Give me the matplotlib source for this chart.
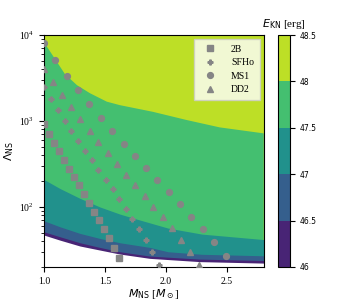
import matplotlib
matplotlib.use("Agg")
import matplotlib.pyplot as plt
import numpy as np
from matplotlib.cm import ScalarMappable
from matplotlib.colors import BoundaryNorm, ListedColormap

plt.rcParams["font.family"] = "serif"
plt.rcParams["font.serif"] = ["Liberation Serif", "DejaVu Serif"]
plt.rcParams["mathtext.fontset"] = "dejavusans"

# E_KN contour levels [log10 erg]
LEVELS = [46.0, 46.5, 47.0, 47.5, 48.0, 48.5]

# level boundaries: (M_NS, Lambda_NS)
B48_M = [1.0, 1.172, 1.27, 1.376, 1.515, 1.622, 1.892, 2.17, 2.44, 2.8]
B48_L = [8300, 3520, 2620, 2110, 1680, 1530, 1280, 1026, 843, 718]
B475_M = [1.0, 1.131, 1.295, 1.458, 1.622, 1.745, 2.015, 2.293, 2.8]
B475_L = [209, 164, 126, 100, 82.6, 73.2, 56.8, 48.3, 41.7]
B47_M = [1.0, 1.131, 1.295, 1.458, 1.622, 1.867, 2.015, 2.293, 2.8]
B47_L = [69.0, 58.8, 49.2, 43.0, 38.3, 33.8, 30.1, 28.1, 27.0]
B465_M = [1.0, 1.131, 1.295, 1.458, 1.622, 1.867, 2.276, 2.8]
B465_L = [51.4, 45.0, 38.3, 33.8, 30.1, 26.8, 24.7, 23.8]
B46_M = [1.0, 1.131, 1.295, 1.458, 1.622, 1.867, 2.276, 2.8]
B46_L = [47.1, 41.1, 35.1, 31.5, 28.3, 25.2, 23.1, 22.2]

# EOS sequences
M_2B = [1.003, 1.041, 1.085, 1.125, 1.166, 1.207, 1.248, 1.289, 1.330, 1.371,
        1.412, 1.453, 1.494, 1.535, 1.575, 1.616]
L_2B = [920, 711, 558, 443, 348, 278, 225, 178, 141, 112,
        87.9, 69.7, 54.8, 43.1, 32.9, 25.2]
M_SFHO = [1.003, 1.057, 1.112, 1.169, 1.224, 1.278, 1.335, 1.393, 1.447, 1.505,
          1.562, 1.616, 1.671, 1.725, 1.780, 1.835, 1.889, 1.946]
L_SFHO = [2510, 1800, 1340, 1010, 771, 584, 451, 348, 269, 207,
          160, 124, 94.5, 72.2, 54.8, 41.1, 29.8, 21.0]
M_MS1 = [1.003, 1.095, 1.188, 1.281, 1.371, 1.464, 1.559, 1.652, 1.742, 1.837,
         1.930, 2.023, 2.115, 2.208, 2.301, 2.396, 2.489]
L_MS1 = [8000, 5120, 3370, 2270, 1560, 1090, 764, 543, 394, 283,
         205, 148, 107, 76.9, 54.8, 38.6, 26.8]
M_DD2 = [1.003, 1.076, 1.150, 1.224, 1.297, 1.374, 1.447, 1.524, 1.597, 1.674,
         1.747, 1.824, 1.897, 1.974, 2.047, 2.121, 2.197, 2.271]
L_DD2 = [3980, 2860, 2000, 1440, 1050, 771, 569, 424, 318, 237,
         180, 135, 101, 76.2, 56.8, 41.5, 29.6, 21.0]


def main() -> None:
    cmap = plt.get_cmap("viridis")
    band_colors = [cmap(v) for v in (0.1, 0.3, 0.5, 0.7, 0.9)]

    fig = plt.figure(figsize=(3.54, 3.0), dpi=100)
    ax = fig.add_axes([0.124, 0.11, 0.621, 0.773])
    ax.set_xscale("linear")
    ax.set_yscale("log")
    ymin, ymax = 20, 1e4

    # paint from top band down, each layer below its lower boundary
    ax.axhspan(ymin, ymax, color=band_colors[4], lw=0, zorder=0)
    bounds = [(B48_M, B48_L, band_colors[3]),
              (B475_M, B475_L, band_colors[2]),
              (B47_M, B47_L, band_colors[1]),
              (B465_M, B465_L, band_colors[0]),
              (B46_M, B46_L, "white")]
    for bm, bl, col in bounds:
        ax.fill_between(bm, bl, 1, color=col, lw=0, zorder=1)

    mk = dict(color="#858585", ls="none", zorder=3)
    ax.plot(M_2B, L_2B, "s", ms=4, label="2B", **mk)
    ax.plot(M_SFHO, L_SFHO, "P", ms=3.5, label="SFHo", **mk)
    ax.plot(M_MS1, L_MS1, "o", ms=4.2, label="MS1", **mk)
    ax.plot(M_DD2, L_DD2, "^", ms=4.5, label="DD2", **mk)

    ax.set_xlim(1.0, 2.8)
    ax.set_ylim(ymin, ymax)
    ax.set_xticks([1.0, 1.5, 2.0, 2.5])
    ax.tick_params(labelsize=7)
    ax.set_xlabel(r"$M_{\rm NS}$ [$M_\odot$]", fontsize=8, labelpad=1)
    ax.set_ylabel(r"$\Lambda_{\rm NS}$", fontsize=8, labelpad=2)
    ax.legend(loc="upper right", fontsize=7, framealpha=0.8, fancybox=False,
              borderpad=0.6, handletextpad=1.2, labelspacing=0.45,
              borderaxespad=0.4)

    # colour bar
    cax = fig.add_axes([0.785, 0.11, 0.034, 0.773])
    sm = ScalarMappable(norm=BoundaryNorm(LEVELS, 5),
                        cmap=ListedColormap(band_colors))
    cb = fig.colorbar(sm, cax=cax, ticks=LEVELS)
    cb.ax.set_yticklabels(["46", "46.5", "47", "47.5", "48", "48.5"],
                          family="DejaVu Sans")
    cb.ax.tick_params(labelsize=5.5)
    cax.set_title(r"$E_{\rm KN}$ [erg]", fontsize=8, pad=6)

    fig.savefig("out.png", dpi=100)
    plt.close(fig)


if __name__ == "__main__":
    main()
